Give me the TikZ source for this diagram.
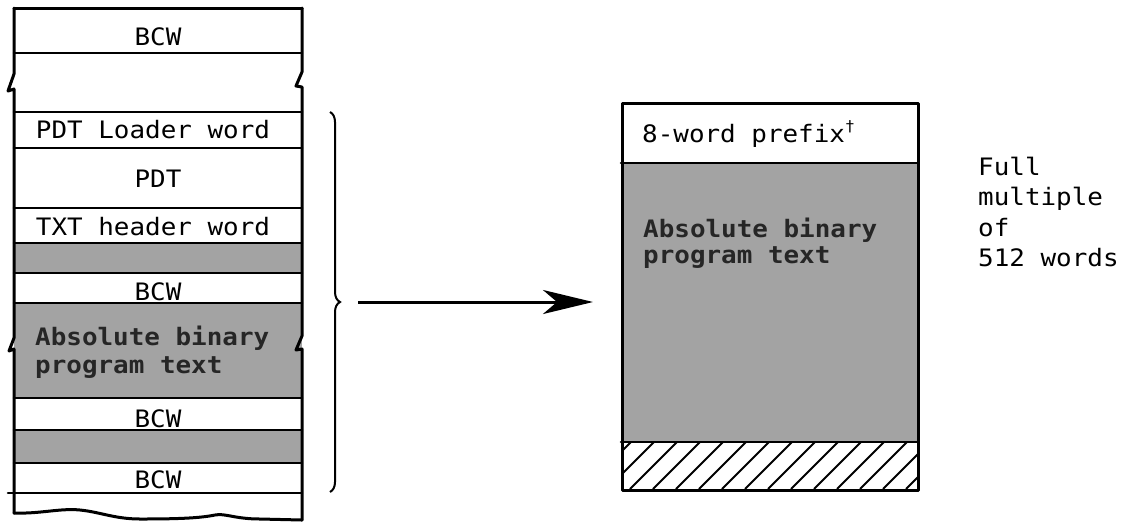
\documentclass[tikz,border=0pt]{standalone}
\usepackage{fontspec}
\newfontfamily\mono[FakeStretch=1.08]{DejaVu Sans Mono}
\newfontfamily\monob[FakeStretch=1.08]{DejaVu Sans Mono Bold}
\usetikzlibrary{decorations.pathreplacing,arrows.meta}
\begin{document}
\begin{tikzpicture}[x=1pt,y=-1pt,
  txt/.style={font=\mono\fontsize{24}{27}\selectfont, inner sep=0pt, anchor=base},
  txtl/.style={txt, anchor=base west},
  txtg/.style={font=\monob\fontsize{24}{27}\selectfont, inner sep=0pt, anchor=base west, text=black!85},
  edge/.style={line width=3pt, line join=round, line cap=round},
  sep/.style={line width=2.6pt, line cap=round},
  shade/.style={fill=black!36},
  hatch/.style={line width=2pt}]
\useasboundingbox (0,0) rectangle (1131,523);
% ---------- left column: shaded rows ----------
\fill[shade] (14,243) rectangle (302,273);
\fill[shade] (14,303) rectangle (302,398);
\fill[shade] (14,430) rectangle (302,463);
% separators
\foreach \y in {53,112,148,208,243,273,303,398,430,463}
  \draw[sep] (14,\y) -- (302,\y);
\draw[sep] (8,493) -- (302,493);
\draw[edge] (14,8) -- (302,8);
% side edges with break marks
\draw[edge] (14,8) -- (14,74) -- (8,91) -- (14,89) -- (14,338) -- (9,351) -- (14,349) -- (14,513);
\draw[edge] (302,8) -- (302,72) -- (296,86) -- (302,87) -- (302,336) -- (296,350) -- (302,349) -- (302,520);
% torn bottom
\draw[edge] (14,513) .. controls (40,514) and (60,508) .. (80,510)
  .. controls (100,512) and (115,519) .. (140,519)
  .. controls (180,519) and (200,518) .. (215,515)
  .. controls (225,513) and (235,519) .. (260,519) -- (302,520);
% ---------- left column texts ----------
\node[txt] (bcw1) at (158,45) {BCW};
\node[txt] (pdtl) at (153,138) {PDT Loader word};
\node[txt] (pdt) at (158,187) {PDT};
\node[txt] (txth) at (153,235) {TXT header word};
\node[txt] (bcw2) at (158,300) {BCW};
\node[txtg] (abs1) at (35,345) {Absolute binary};
\node[txtg] (abs2) at (35,373) {program text};
\node[txt] (bcw3) at (158,427) {BCW};
\node[txt] (bcw4) at (158,488) {BCW};
% ---------- brace and arrow ----------
\coordinate (btop) at (330,112);
\coordinate (bbot) at (330,492);
\draw[line width=2pt, decorate, decoration={brace, amplitude=10pt}] (btop) -- (bbot);
\coordinate (tail) at (358,302);
\coordinate (head) at (593,302);
\draw[line width=3pt, -{Stealth[length=50pt,width=24pt,inset=14pt]}] (tail) -- (head);
% ---------- right box ----------
\fill[shade] (621,163) rectangle (917,442);
\begin{scope}
  \clip (621,442) rectangle (917,489);
  \foreach \i in {-60,-37,...,320}
    \draw[hatch] (621+\i,489) -- (621+\i+47,442);
\end{scope}
\node[draw, edge, minimum width=296pt, minimum height=387pt, inner sep=0pt, anchor=north west] (frame) at (621,102) {};
\draw[sep] (621,163) -- (917,163);
\draw[sep] (621,442) -- (917,442);
\node[txtl] (prefix) at (642,142) {8-word prefix\raisebox{11pt}{\fontsize{15}{15}\selectfont †}};
\node[txtg] (abs3) at (643,237) {Absolute binary};
\node[txtg] (abs4) at (643,263) {program text};
% ---------- side note ----------
\node[txtl] (n1) at (978,175) {Full};
\node[txtl] (n2) at (978,205) {multiple};
\node[txtl] (n3) at (978,236) {of};
\node[txtl] (n4) at (978,266) {512 words};
\end{tikzpicture}
\end{document}
